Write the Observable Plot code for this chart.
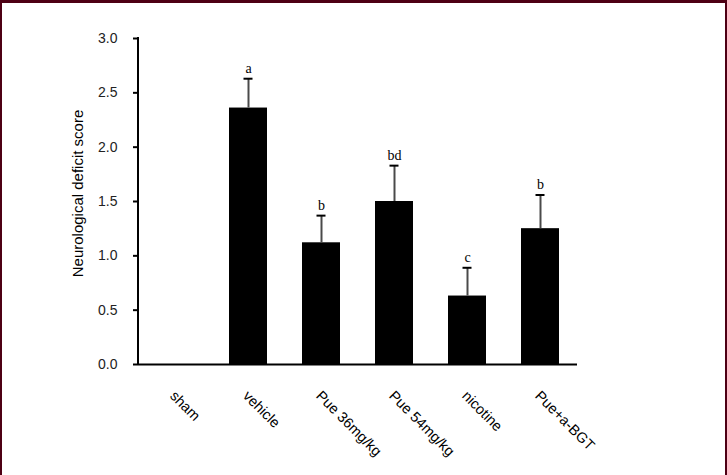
<!DOCTYPE html>
<html>
<head>
<meta charset="utf-8">
<script src="https://cdn.jsdelivr.net/npm/d3@7"></script>
<script src="https://cdn.jsdelivr.net/npm/@observablehq/plot@0.6"></script>
<style>
  html, body { margin: 0; padding: 0; background: #fff; }
  #wrap { position: relative; width: 727px; height: 475px; overflow: hidden; }
  #border { position: absolute; left: 0; top: 0; width: 727px; height: 475px; box-sizing: border-box;
    border-top: 3px solid #4e0014; border-left: 2px solid #4e0014; border-right: 2px solid #4e0014; pointer-events: none; }
</style>
</head>
<body>
<div id="wrap"><div id="border"></div></div>
<script>
const categories = ["sham", "vehicle", "Pue 36mg/kg", "Pue 54mg/kg", "nicotine", "Pue+a-BGT"];
const means = [0, 2.36, 1.12, 1.50, 0.63, 1.25];
const errors = [0, 0.27, 0.25, 0.33, 0.26, 0.31];
const letters = ["", "a", "b", "bd", "c", "b"];
const yTicks = [0, 0.5, 1.0, 1.5, 2.0, 2.5, 3.0];

const data = categories.map((c, i) => ({cat: c, mean: means[i], err: errors[i], top: means[i] + errors[i], letter: letters[i]}));
const withErr = data.filter(d => d.err > 0);

const yAxisLine = (index, scales, values, dims) => {
  const g = d3.create("svg:g");
  g.append("line")
    .attr("x1", dims.marginLeft).attr("x2", dims.marginLeft)
    .attr("y1", scales.y(3.0) - 1).attr("y2", scales.y(0) + 1)
    .attr("stroke", "#000").attr("stroke-width", 2);
  return g.node();
};

const chart = Plot.plot({
  width: 727,
  height: 475,
  marginLeft: 138,
  marginRight: 150,
  marginTop: 38,
  marginBottom: 111,
  style: {fontFamily: "Arial, 'Liberation Sans', sans-serif", background: "transparent", overflow: "visible"},
  x: {domain: categories, paddingInner: 0.48, paddingOuter: 0.24, axis: null},
  y: {domain: [0, 3], axis: null},
  marks: [
    Plot.barY(data, {x: "cat", y: "mean", fill: "#000"}),
    Plot.ruleX(withErr, {x: "cat", y1: "mean", y2: "top", stroke: "#4a4a4a", strokeWidth: 2}),
    Plot.tickY(withErr, {x: "cat", y: "top", stroke: "#000", strokeWidth: 2, insetLeft: 14.5, insetRight: 14.5}),
    Plot.text(withErr, {x: "cat", y: "top", text: "letter", dy: -10, fontFamily: "'Liberation Serif', 'Times New Roman', serif", fontSize: 14, fill: "#000"}),
    Plot.ruleY([0], {stroke: "#000", strokeWidth: 2}),
    yAxisLine,
    Plot.axisY({ticks: yTicks, tickFormat: d3.format(".1f"), tickSize: 5, tickPadding: 16, fontSize: 14, color: "#222", strokeWidth: 2, stroke: "#000"}),
    Plot.text(categories, {x: d => d, frameAnchor: "bottom", dy: 25, dx: 1, rotate: 45, textAnchor: "start", lineAnchor: "top", fontSize: 14.5, fill: "#000"}),
    Plot.text(["Neurological deficit score"], {frameAnchor: "left", dx: -60, dy: -8, rotate: -90, textAnchor: "middle", fontSize: 15, fill: "#000"})
  ]
});
document.getElementById("wrap").insertBefore(chart, document.getElementById("border"));
</script>
</body>
</html>
